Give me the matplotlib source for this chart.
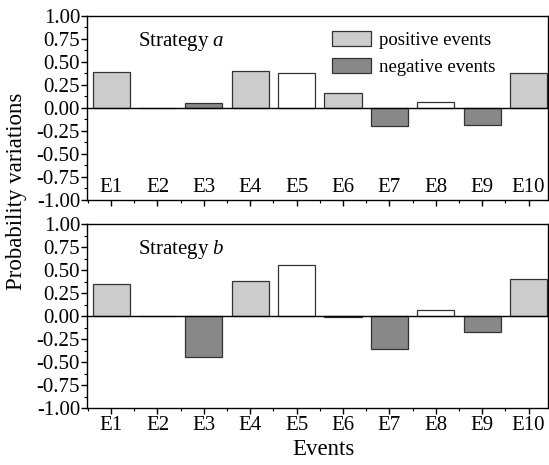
import matplotlib
matplotlib.use("Agg")
import matplotlib.pyplot as plt
from matplotlib.ticker import MultipleLocator, FixedLocator
from matplotlib.patches import Patch

plt.rcParams['font.family'] = ['Liberation Serif', 'DejaVu Serif']
plt.rcParams['mathtext.fontset'] = 'custom'
plt.rcParams['mathtext.rm'] = 'Liberation Serif'
plt.rcParams['mathtext.it'] = 'Liberation Serif:italic'

events = ["E1", "E2", "E3", "E4", "E5", "E6", "E7", "E8", "E9", "E10"]
strategy_a = [0.39, 0.0, 0.05, 0.40, 0.38, 0.16, -0.20, 0.07, -0.18, 0.38]
strategy_b = [0.35, 0.0, -0.45, 0.38, 0.55, -0.01, -0.36, 0.06, -0.17, 0.40]
# event kind: "pos" positive, "neg" negative, "neu" neither
kinds = ["pos", "pos", "neg", "pos", "neu", "pos", "neg", "neu", "neg", "pos"]
y_ticks = [-1.0, -0.75, -0.5, -0.25, 0.0, 0.25, 0.5, 0.75, 1.0]

fills = {"pos": "#cccccc", "neg": "#888888", "neu": "#ffffff"}
edge = "#333333"
FS = 15

W, H = 549, 465
fig = plt.figure(figsize=(W / 100, H / 100), dpi=100)

left = 87 / W
width = (548 - 87) / W
ax_a = fig.add_axes([left, (H - 200) / H, width, 184 / H])
ax_b = fig.add_axes([left, (H - 408) / H, width, 184 / H])

xs = list(range(1, len(events) + 1))

for ax, vals, title in [(ax_a, strategy_a, "Strategy $\\mathit{a}$"),
                         (ax_b, strategy_b, "Strategy $\\mathit{b}$")]:
    ax.bar(xs, vals, width=0.8, color=[fills[k] for k in kinds],
           edgecolor=edge, linewidth=0.9, zorder=2)
    ax.axhline(0, color="black", linewidth=1.0, zorder=3)
    ax.set_xlim(0.48, 10.42)
    ax.set_ylim(-1.0, 1.0)
    ax.set_yticks(y_ticks)
    ax.set_yticklabels(["%.2f" % v for v in y_ticks])
    ax.yaxis.set_minor_locator(MultipleLocator(0.125))
    ax.xaxis.set_major_locator(FixedLocator(xs))
    ax.xaxis.set_minor_locator(FixedLocator([x + 0.5 for x in xs[:-1]] + [0.5]))
    ax.tick_params(axis="both", which="major", direction="out", length=4,
                   width=1.0, labelsize=FS, colors="black")
    ax.tick_params(axis="both", which="minor", direction="out", length=2.5,
                   width=0.8)
    ax.tick_params(axis="y", pad=1)
    for s in ax.spines.values():
        s.set_linewidth(1.0)
    ax.text(1.58, 0.72, title, fontsize=FS, va="center", ha="left")

ax_a.set_xticklabels([])
for x, lab in zip(xs, events):
    ax_a.text(x, -0.865, lab, ha="center", va="center", fontsize=FS)
ax_b.set_xticklabels(events)
ax_b.tick_params(axis="x", pad=2)

handles = [Patch(facecolor=fills["pos"], edgecolor=edge, linewidth=0.9, label="positive events"),
           Patch(facecolor=fills["neg"], edgecolor=edge, linewidth=0.9, label="negative events")]
ax_a.legend(handles=handles, loc="upper left", bbox_to_anchor=(0.503, 0.99),
            frameon=False, fontsize=13.5, handlelength=2.1, handleheight=0.85,
            handletextpad=0.4, labelspacing=0.5, borderpad=0.2)

fig.text(17 / W, 1 - 191 / H, "Probability variations", rotation=90,
         ha="center", va="center", fontsize=16.5)
fig.text(323 / W, 1 - 449 / H, "Events", ha="center", va="center", fontsize=16.5)

fig.savefig("out.png", dpi=100)
